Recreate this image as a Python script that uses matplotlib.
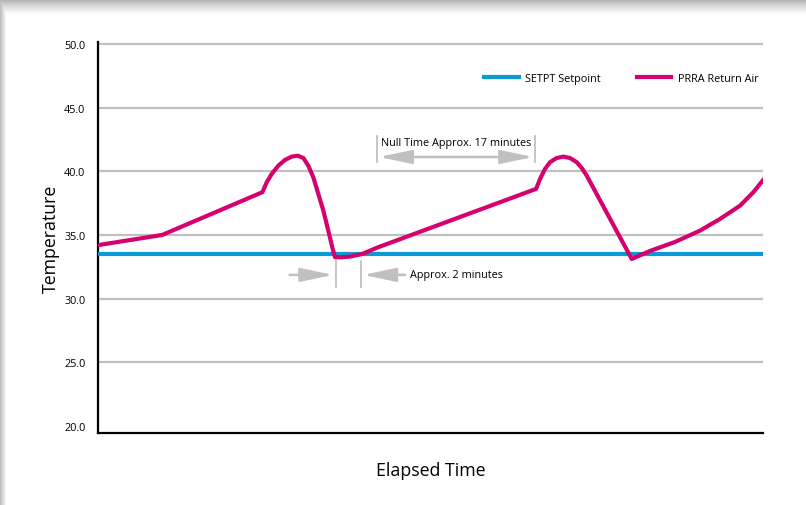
import matplotlib.pyplot as plt
import numpy as np

plt.rcParams['font.family'] = ['Open Sans', 'DejaVu Sans']

# elapsed time (minutes) and return air temperature
time_min = [0, 6.9, 17.67, 18.14, 18.68, 19.39, 20.11, 20.83, 21.47, 22.08, 22.61,
            23.15, 23.69, 24.23, 24.76, 25.19, 25.48, 26.2, 27.1, 28.39, 30.0,
            47.1, 47.53, 48.06, 48.6, 49.32, 50.03, 50.75, 51.47, 52.01, 52.55,
            57.39, 59.35, 62.04, 64.73, 66.88, 69.03, 70.46, 71.5]
return_air = [34.2, 35.0, 38.36, 39.14, 39.8, 40.45, 40.9, 41.16, 41.23, 41.05, 40.45,
              39.54, 38.22, 36.91, 35.34, 34.03, 33.25, 33.25, 33.3, 33.5, 34.0,
              38.62, 39.4, 40.19, 40.72, 41.05, 41.16, 41.05, 40.72, 40.27, 39.66,
              33.11, 33.74, 34.45, 35.34, 36.26, 37.3, 38.36, 39.3]
setpoint = 33.5
y_ticks = [20, 25, 30, 35, 40, 45, 50]

null_start, null_end = 30.0, 47.0
dip_start, dip_end = 25.6, 28.3

blue = '#0a9ad7'
magenta = '#d6006f'
grey = '#c0c0c0'

fig = plt.figure(figsize=(8.06, 5.06), dpi=100)

# grey shadow along top and left edge
bg = fig.add_axes([0, 0, 1, 1], zorder=-5)
img = np.ones((506, 806))
top = np.clip(np.arange(506) / 15.0, 0, 1) ** 0.7
left = np.clip(np.arange(806) / 6.0, 0, 1)
img = np.minimum(img, 0.66 + 0.34 * top[:, None])
img = np.minimum(img, 0.75 + 0.25 * left[None, :])
bg.imshow(img, cmap='gray', vmin=0, vmax=1, aspect='auto')
bg.axis('off')

ax = fig.add_axes([98 / 806, 1 - 434 / 506, (763 - 98) / 806, (434 - 43) / 506])
ax.set_facecolor('none')

ax.set_xlim(0, 71.5)
ax.set_ylim(19.43, 50.17)
ax.set_yticks(y_ticks)
ax.set_yticklabels(['%.1f' % v for v in y_ticks], fontsize=7.8)
ax.set_xticks([])
ax.tick_params(axis='y', length=0, pad=9)
for v in y_ticks[1:]:
    ax.axhline(v, color=grey, lw=1.6, zorder=1)
ax.spines['top'].set_visible(False)
ax.spines['right'].set_visible(False)
ax.spines['left'].set_linewidth(1.6)
ax.spines['bottom'].set_linewidth(1.6)

ax.axhline(setpoint, color=blue, lw=3, zorder=3, label='SETPT Setpoint')
ax.plot(time_min, return_air, color=magenta, lw=3, zorder=4,
        solid_joinstyle='round', label='PRRA Return Air')

ax.set_ylabel('Temperature', fontsize=12.8, labelpad=3)
ax.set_xlabel('Elapsed Time', fontsize=12.8, labelpad=20)

ax.legend(loc='upper right', bbox_to_anchor=(1.008, 0.945), ncol=2, frameon=False,
          fontsize=7.8, handlelength=3.2, columnspacing=3.3, handletextpad=0.6)

head = '-|>,head_length=2.0,head_width=0.42'

# null time annotation
for t in (null_start, null_end):
    ax.plot([t, t], [40.74, 42.78], color=grey, lw=1.3, zorder=2)
ax.annotate('', xy=(null_start + 0.2, 41.13), xytext=(null_end - 0.2, 41.13),
            arrowprops=dict(arrowstyle='<|-|>,head_length=2.0,head_width=0.42',
                            color=grey, lw=1.8, mutation_scale=10, shrinkA=0, shrinkB=0))
ax.text(null_start + 0.4, 42.3, 'Null Time Approx. 17 minutes', fontsize=7.8, va='center')

# approx 2 minutes annotation
for t in (dip_start, dip_end):
    ax.plot([t, t], [30.91, 32.96], color=grey, lw=1.3, zorder=2)
ax.annotate('', xy=(dip_start - 0.3, 31.86), xytext=(20.6, 31.86),
            arrowprops=dict(arrowstyle=head, color=grey, lw=1.8, mutation_scale=10,
                            shrinkA=0, shrinkB=0))
ax.annotate('', xy=(dip_end + 0.2, 31.86), xytext=(33.0, 31.86),
            arrowprops=dict(arrowstyle=head, color=grey, lw=1.8, mutation_scale=10,
                            shrinkA=0, shrinkB=0))
ax.text(33.5, 31.86, 'Approx. 2 minutes', fontsize=7.8, va='center')

fig.savefig('out.png', dpi=100)
